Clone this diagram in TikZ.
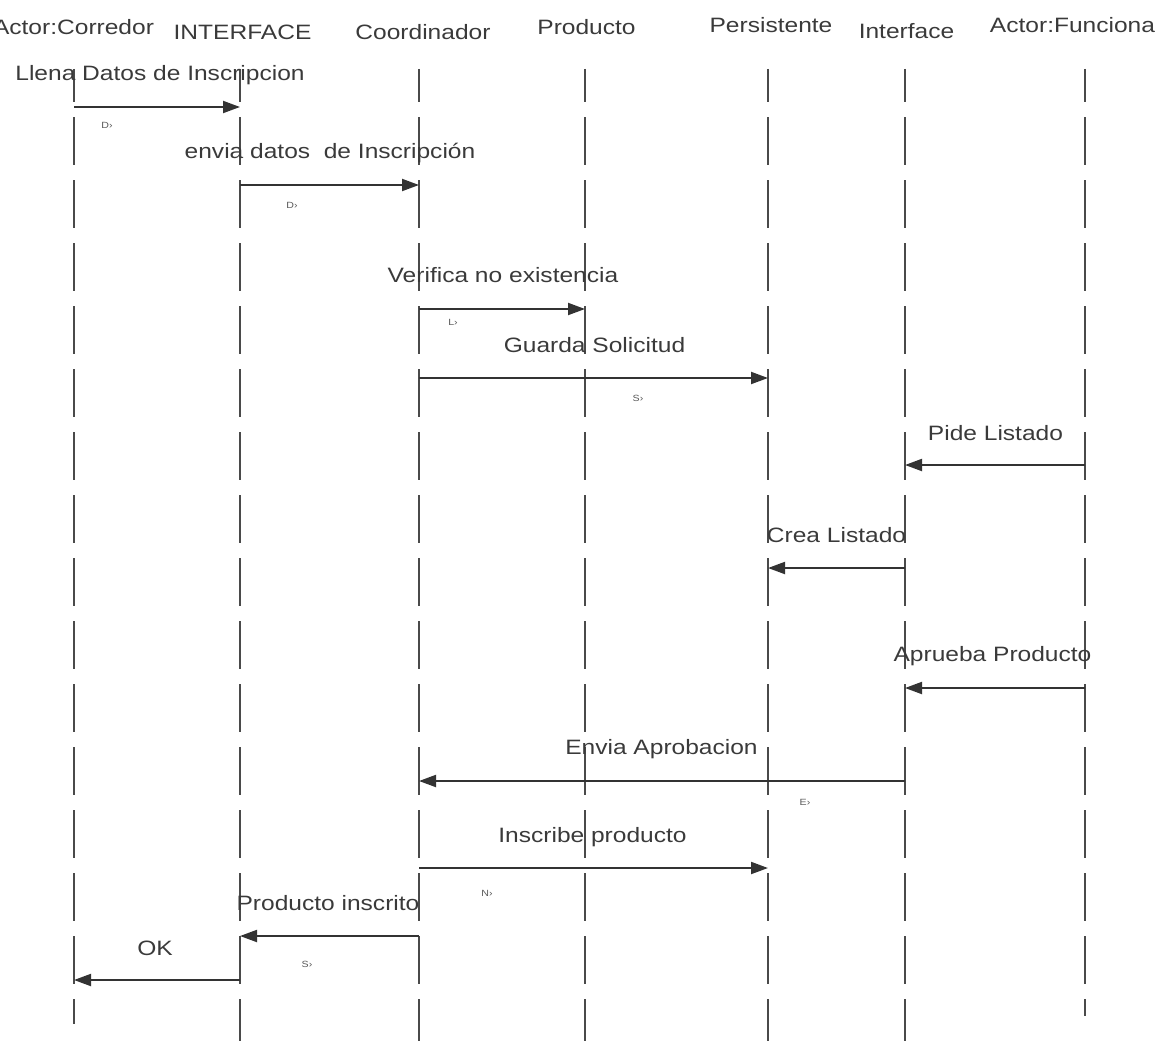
\documentclass[tikz,border=0pt]{standalone}
\usepackage{fontspec}
\setmainfont{Liberation Sans}[FakeStretch=1.18]
\usetikzlibrary{arrows.meta}
\definecolor{ink}{HTML}{333333}
\definecolor{txt}{HTML}{3A3A3A}
\definecolor{life}{HTML}{4A4A4A}
\begin{document}
\begin{tikzpicture}[x=1pt,y=-1pt,
  lbl/.style={font=\fontsize{20.8}{22}\selectfont, text=txt, inner sep=0pt, anchor=base},
  head/.style={lbl},
  lifeline/.style={draw=life, line width=2pt, dash pattern=on 48pt off 15pt, dash phase=15pt},
  msg/.style={draw=ink, line width=2pt, -{Triangle[length=17pt,width=12pt]}},
  tick/.style={font=\fontsize{9}{10}\selectfont, text=black!65, inner sep=0pt}]
\useasboundingbox (0,0) rectangle (1164,1041);

% participants
\node[head] (hcor) at (73.5,35) {Actor:Corredor};
\node[head] (hint) at (242.5,40) {INTERFACE};
\node[head] (hcoo) at (423,40) {Coordinador};
\node[head] (hpro) at (586.5,35) {Producto};
\node[head] (hper) at (771,33) {Persistente};
\node[head] (hifc) at (906.5,38) {Interface};
\node[head] (hfun) at (1072.5,33) {Actor:Funciona};

% lifelines
\coordinate (cor) at (74,69);   \coordinate (cor-end) at (74,1024);
\coordinate (int) at (240,69);  \coordinate (int-end) at (240,1041);
\coordinate (coo) at (419,69);  \coordinate (coo-end) at (419,1041);
\coordinate (pro) at (585,69);  \coordinate (pro-end) at (585,1041);
\coordinate (per) at (768,69);  \coordinate (per-end) at (768,1041);
\coordinate (ifc) at (905,69);  \coordinate (ifc-end) at (905,1041);
\coordinate (fun) at (1085,69); \coordinate (fun-end) at (1085,1016);
\foreach \l in {cor,int,coo,pro,per,ifc,fun}
  \draw[lifeline] (\l) -- (\l-end);

% messages
\draw[msg] (cor |- 0,107) -- (int |- 0,107);
\node[lbl] (m1) at (160,81) {Llena Datos de Inscripcion};
\node[tick] (t1) at (107,125) {D›};

\draw[msg] (int |- 0,185) -- (coo |- 0,185);
\node[lbl] (m2) at (330,158) {envia datos\ \ de Inscripción};
\node[tick] (t2) at (292,205) {D›};

\draw[msg] (coo |- 0,309) -- (pro |- 0,309);
\node[lbl] (m3) at (503,282) {Verifica no existencia};
\node[tick] (t3) at (453,322) {L›};

\draw[msg] (coo |- 0,378) -- (per |- 0,378);
\node[lbl] (m4) at (594.5,352) {Guarda Solicitud};
\node[tick] (t4) at (638,398) {S›};

\draw[msg] (fun |- 0,465) -- (ifc |- 0,465);
\node[lbl] (m5) at (995.5,440) {Pide Listado};

\draw[msg] (ifc |- 0,568) -- (per |- 0,568);
\node[lbl] (m6) at (836.5,542) {Crea Listado};

\draw[msg] (fun |- 0,688) -- (ifc |- 0,688);
\node[lbl] (m7) at (992.5,661) {Aprueba Producto};

\draw[msg] (ifc |- 0,781) -- (coo |- 0,781);
\node[lbl] (m8) at (661.5,754) {Envia Aprobacion};
\node[tick] (t8) at (805,802) {E›};

\draw[msg] (coo |- 0,868) -- (per |- 0,868);
\node[lbl] (m9) at (592.5,842) {Inscribe producto};
\node[tick] (t9) at (487,893) {N›};

\draw[msg] (coo |- 0,936) -- (int |- 0,936);
\node[lbl] (m10) at (328,910) {Producto inscrito};
\node[tick] (t10) at (307,964) {S›};

\draw[msg] (int |- 0,980) -- (cor |- 0,980);
\node[lbl] (m11) at (155,955) {OK};
\end{tikzpicture}
\end{document}
